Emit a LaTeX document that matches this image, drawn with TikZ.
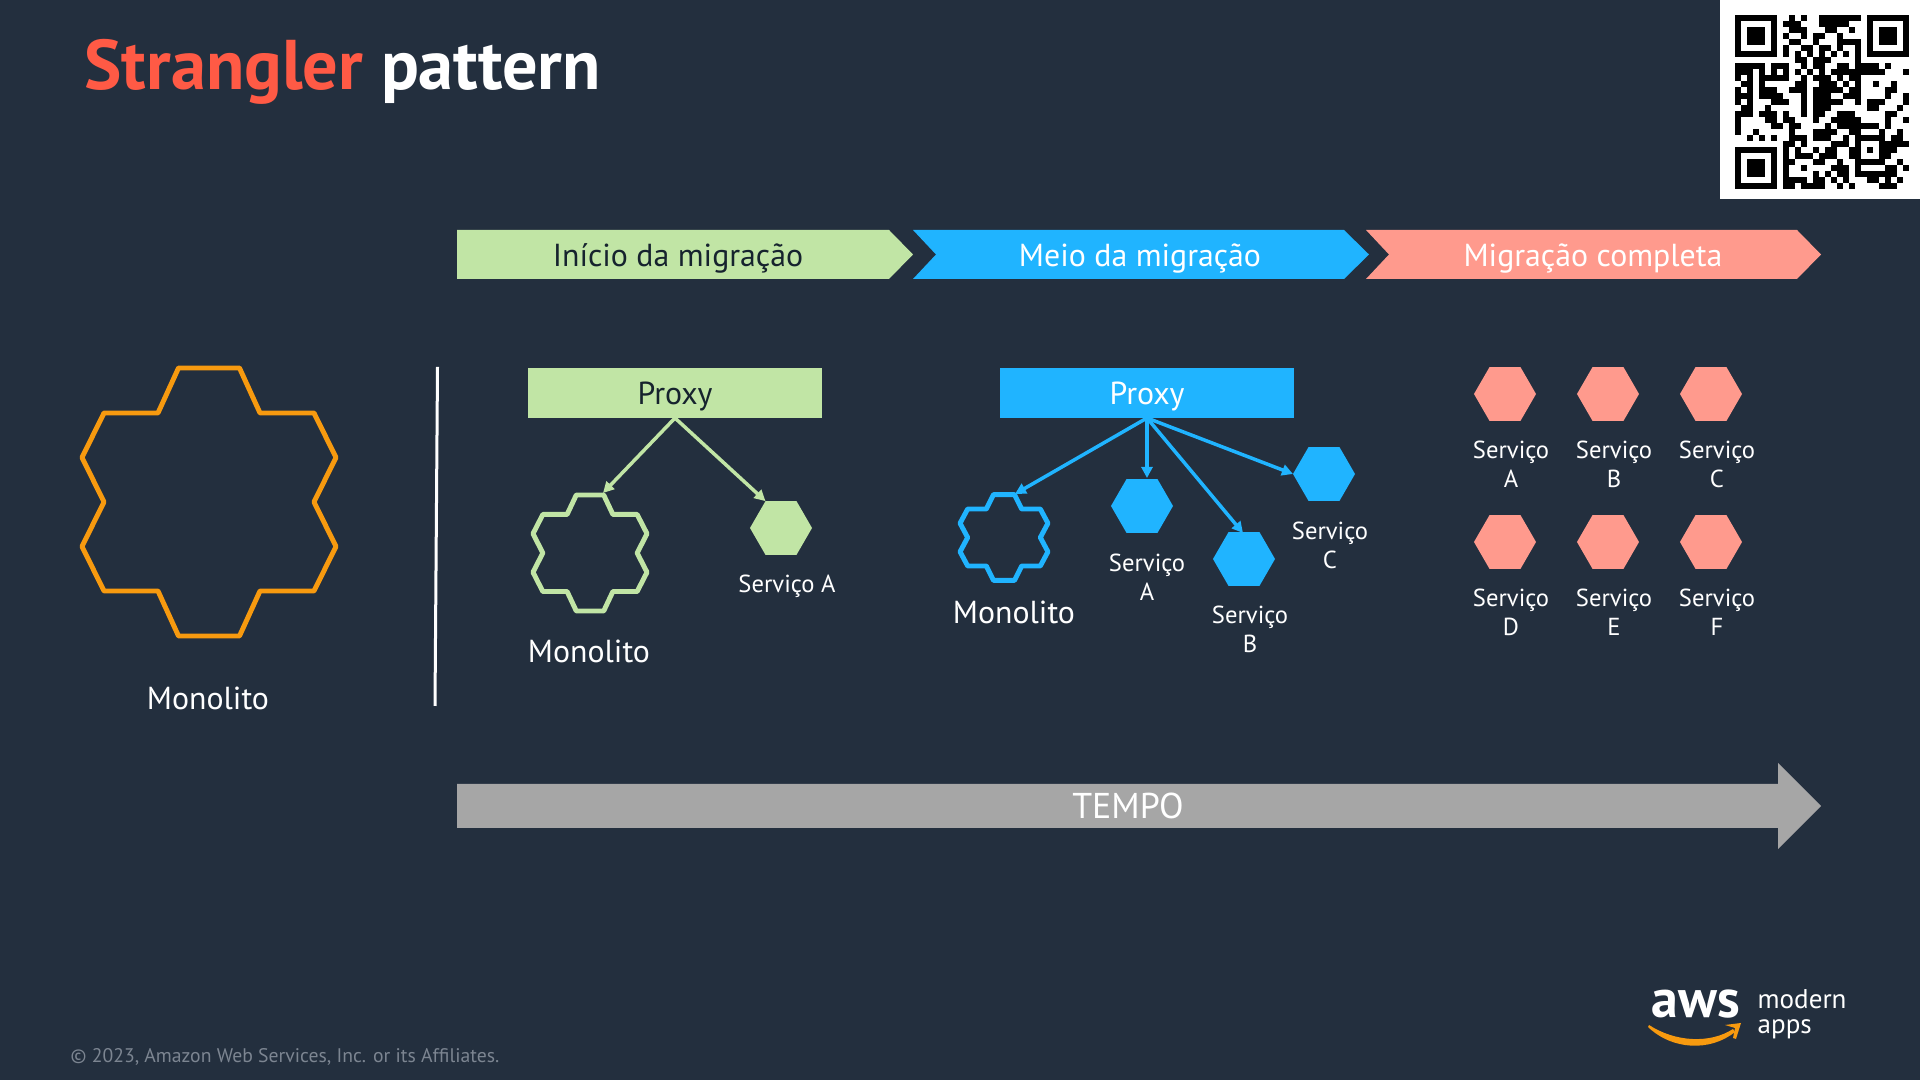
\documentclass[tikz,border=0pt]{standalone}
\usepackage{fontspec}
\setmainfont{PT Sans}
\usetikzlibrary{arrows.meta, shapes.geometric, positioning}
\definecolor{AWSInk}{HTML}{232F3E}
\definecolor{MigGreen}{HTML}{C1E5A5}
\definecolor{MigBlue}{HTML}{20B4FF}
\definecolor{MigPink}{HTML}{FF9A8D}
\definecolor{MonoOrange}{HTML}{F79A0F}
\definecolor{TitleRed}{HTML}{FF5A45}
\definecolor{TimeGray}{HTML}{A6A6A6}
\definecolor{DarkText}{HTML}{16232E}
\definecolor{FootGray}{HTML}{7C8591}
\tikzset{pics/monolito/.style={code={
	\draw[pic actions] (-30.5,-134)--(30.5,-134)--(51,-89)--(105,-89)--(127,-44.5)--(105,0)--(127,44.5)--(105,89)--(51,89)--(30.5,134)--(-30.5,134)--(-51,89)--(-105,89)--(-127,44.5)--(-105,0)--(-127,-44.5)--(-105,-89)--(-51,-89)--cycle;
}}}

\begin{document}
\begin{tikzpicture}[x=0.01cm, y=-0.01cm, font=\fontsize{9.05}{11}\selectfont,
	mono/.style={line width=#1, line join=round},
	hexa/.style={regular polygon, regular polygon sides=6, minimum size=0.62cm, inner sep=0pt, outer sep=0pt, fill=#1},
	proxybox/.style={rectangle, minimum width=2.94cm, minimum height=0.5cm, inner sep=0pt, outer sep=0pt, text height=6.3pt, text depth=0pt, fill=#1},
	servico/.style={font=\fontsize{7}{8.25}\selectfont, text=white, align=center, inner sep=0pt},
	rotulo/.style={text=white, inner sep=0pt, anchor=base},
	fl/.style={-{Stealth[length=1.1mm, width=1.1mm, inset=0pt]}, line width=0.35mm, #1}]
	\useasboundingbox (0,0) rectangle (1920,1080);
	\fill[AWSInk] (0,0) rectangle (1920,1080);

	% titulo
	\node[anchor=base west, inner sep=0pt, font=\fontsize{20}{24}\selectfont\bfseries] (titulo) at (84,90) {\textcolor{TitleRed}{Strangler} \textcolor{white}{pattern}};

	% qr code
	\fill[white] (1720,0) rectangle (1920,199);
	\foreach \fx/\fy in {1735/15, 1867/15, 1735/147} {
		\fill[black] (\fx,\fy) rectangle (\fx+42,\fy+42);
		\fill[white] (\fx+6,\fy+6) rectangle (\fx+36,\fy+36);
		\fill[black] (\fx+12,\fy+12) rectangle (\fx+30,\fy+30);
	}
	\foreach \qrrow/\qrspans in {
		0/{9/9,11/11,14/20}, 1/{8/10,14/18}, 2/{9/11,15/16,19/19}, 3/{8/8,11/11,13/14,17/17},
		4/{9/10,13/13,17/20}, 5/{8/8,11/12,14/15,17/17,20/20}, 6/{6/6,8/8,10/10,12/12,14/14,16/16,18/18,20/20},
		7/{10/11,13/15,20/20}, 8/{0/4,6/8,11/11,13/14,17/18,20/23,25/25},
		9/{0/2,4/4,6/6,8/8,10/10,12/12,14/14,16/24,28/28}, 10/{0/0,2/2,4/8,11/11,13/15,17/17,19/20},
		11/{1/2,4/4,10/11,14/16,18/18,20/20,23/23,26/26}, 12/{0/0,2/2,4/6,9/11,13/17,19/20,25/26},
		13/{0/2,4/7,11/11,13/15,18/20,25/25,28/28}, 14/{0/0,2/2,6/8,11/11,13/17,20/20,22/24,28/28},
		15/{1/2,5/5,11/11,13/15,22/23,27/27}, 16/{0/2,4/6,8/8,11/11,13/14,17/19,25/26},
		17/{0/0,5/6,8/9,13/13,16/20,25/25,28/28}, 18/{0/0,6/7,9/10,15/15,17/23,25/25},
		19/{0/0,3/3,9/9,13/16,19/20,24/24,27/27}, 20/{2/2,4/4,6/6,9/11,13/15,18/18,20/24,26/27},
		21/{8/9,11/11,16/18,20/20,24/28}, 22/{8/8,10/10,13/13,15/16,19/20,22/22,24/26},
		23/{8/8,10/12,14/16,19/20,24/25}, 24/{8/9,13/14,17/17,20/24,27/27}, 25/{8/8,11/11,16/18,20/20,25/26,28/28},
		26/{8/8,13/13,15/15,17/18,20/26}, 27/{8/11,13/14,16/16,18/18,22/23,25/25,27/27}, 28/{8/9,11/14,17/17,19/19,24/26}} {
		\foreach \qra/\qrb in \qrspans {
			\fill[black] (1735+6*\qra,15+6*\qrrow) rectangle (1741+6*\qrb,21+6*\qrrow);
		}
	}

	% faixas
	\fill[MigGreen] (457,230)--(889,230)--(913,254.5)--(889,279)--(457,279)--cycle;
	\fill[MigBlue] (913,230)--(1344,230)--(1369,254.5)--(1344,279)--(913,279)--(936,254.5)--cycle;
	\fill[MigPink] (1366,230)--(1797,230)--(1821,254.5)--(1797,279)--(1366,279)--(1389,254.5)--cycle;
	\node[rotulo, text=DarkText] (inicio) at (678,267) {Início da migração};
	\node[rotulo] (meio) at (1140,267) {Meio da migração};
	\node[rotulo] (completa) at (1593,267) {Migração completa};

	% antes
	\pic[mono=1.4pt, draw=MonoOrange] (monoorig) at (209,502) {monolito};
	\node[rotulo] (monoorigtxt) at (208,710) {Monolito};
	\coordinate (sepA) at (437.5,367);
	\coordinate (sepB) at (435,706);
	\draw[white, line width=0.3mm] (sepA) -- (sepB);

	% inicio
	\node[proxybox=MigGreen, text=DarkText] (proxyverde) at (675,393) {Proxy};
	\pic[mono=1.4pt, draw=MigGreen, xscale=0.449, yscale=0.433] (monoverde) at (590,553) {monolito};
	\coordinate (monoverdetop) at (603,493);
	\node[rotulo] (monoverdetxt) at (589,663) {Monolito};
	\node[hexa=MigGreen] (hexverde) at (781,528) {};
	\node[servico] (hexverdetxt) at (787,586) {Serviço A};
	\draw[fl=MigGreen] (proxyverde.south) -- (monoverdetop);
	\draw[fl=MigGreen] (proxyverde.south) -- (hexverde.120);

	% meio
	\node[proxybox=MigBlue, text=white] (proxyazul) at (1147,393) {Proxy};
	\pic[mono=1.4pt, draw=MigBlue, xscale=0.346, yscale=0.32] (monoazul) at (1004,537.5) {monolito};
	\coordinate (monoazultop) at (1015,494);
	\node[rotulo] (monoazultxt) at (1014,624) {Monolito};
	\node[hexa=MigBlue] (hexazulA) at (1142,506) {};
	\node[hexa=MigBlue] (hexazulB) at (1244,559) {};
	\node[hexa=MigBlue] (hexazulC) at (1324,474) {};
	\node[servico] (hexazulAtxt) at (1147,577) {Serviço\\A};
	\node[servico] (hexazulBtxt) at (1250,629) {Serviço\\B};
	\node[servico] (hexazulCtxt) at (1330,545) {Serviço\\C};
	\coordinate (hexazulAtop) at (1147,478);
	\coordinate (hexazulBtop) at (1243,533);
	\draw[fl=MigBlue] (proxyazul.south) -- (monoazultop);
	\draw[fl=MigBlue] (proxyazul.south) -- (hexazulAtop);
	\draw[fl=MigBlue] (proxyazul.south) -- (hexazulBtop);
	\draw[fl=MigBlue] (proxyazul.south) -- (hexazulC.west);

	% completa
	\foreach \hexnome/\hexx/\hexy in {A/1505/394, B/1608/394, C/1711/394, D/1505/542, E/1608/542, F/1711/542} {
		\node[hexa=MigPink] (hexrosa\hexnome) at (\hexx,\hexy) {};
		\node[servico] (hexrosa\hexnome txt) at (\hexx+6,\hexy+70.5) {Serviço\\\hexnome};
	}

	% tempo
	\fill[TimeGray] (457,784)--(1778,784)--(1778,763)--(1821,806)--(1778,849)--(1778,828)--(457,828)--cycle;
	\node[rotulo, font=\fontsize{10.2}{12}\selectfont] (tempo) at (1128,819) {TEMPO};

	% rodape
	\node[anchor=base west, inner sep=0pt, text=FootGray, font=\fontsize{5.6}{6}\selectfont] (rodape) at (70,1062.5) {© 2023, Amazon Web Services, Inc. or its Affiliates.};
	\node[anchor=base west, inner sep=0pt, text=white, font=\fontsize{15.3}{16}\selectfont\bfseries] (awstxt) at (1651,1018) {aws};
	\fill[MonoOrange] (1649,1025) .. controls (1675,1042) and (1710,1044) .. (1733,1029) -- (1735,1032) .. controls (1710,1052) and (1672,1050) .. (1648,1027) -- cycle;
	\fill[MonoOrange] (1725,1025) -- (1741,1023) -- (1736,1039) -- (1733,1038) -- (1735,1028) -- cycle;
	\node[anchor=base west, inner sep=0pt, text=white, font=\fontsize{7.7}{8}\selectfont] (modern) at (1757,1009) {modern};
	\node[anchor=base west, inner sep=0pt, text=white, font=\fontsize{7.7}{8}\selectfont] (apps) at (1757,1034) {apps};
\end{tikzpicture}
\end{document}
